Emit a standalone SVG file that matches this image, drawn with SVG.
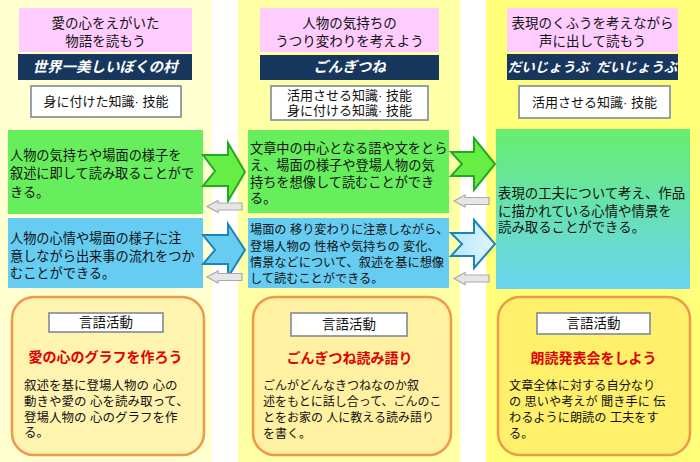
<svg xmlns="http://www.w3.org/2000/svg" width="700" height="462" viewBox="0 0 700 462">
<defs>
<style>
text{font-family:"Liberation Sans","Noto Sans CJK JP","Noto Sans CJK SC",sans-serif;fill:#111}
.hd{font-size:13.5px;text-anchor:middle}
.ttl{font-size:14.5px;font-weight:bold;font-style:italic;fill:#fff;text-anchor:middle}
.sk{font-size:13px;text-anchor:middle}
.bx{font-size:13.2px}
.red{font-size:14px;font-weight:bold;fill:#E00000;text-anchor:middle}
.bd{font-size:12.5px}
.pink{fill:#FFCCFF}
.navy{fill:#17375E}
.skill{fill:#fff;stroke:#7D8A96;stroke-width:1.6}
.green{fill:#66EE5C}
.blue{fill:#66CCF2}
.act{stroke:#EE9A4A;stroke-width:2.5}
.ga{fill:#66EE44;stroke:#22AA22;stroke-width:2;stroke-linejoin:miter}
.ba{fill:#66CCF0;stroke:#1A86B8;stroke-width:2;stroke-linejoin:miter}
.ba2{fill:url(#lb);stroke:#1A86B8;stroke-width:2;stroke-linejoin:miter}
.gr{fill:#E6E6E6;stroke:#A9A9A9;stroke-width:1.2}
</style>
<linearGradient id="gb" x1="0" y1="0" x2="0" y2="1">
<stop offset="0" stop-color="#66EE70"/>
<stop offset="1" stop-color="#6AD4F2"/>
</linearGradient>
<linearGradient id="lb" x1="0" y1="0" x2="1" y2="0">
<stop offset="0" stop-color="#B8E6FA"/>
<stop offset="1" stop-color="#E0F6FF"/>
</linearGradient>
</defs>
<rect width="700" height="462" fill="#fff"/>
<g id="col1">
<rect x="0" y="0" width="212" height="462" fill="#FFFFCF"/>
<rect class="pink" x="19" y="8" width="173" height="44"/>
<text class="hd" x="105.5" y="28">愛の心をえがいた</text>
<text class="hd" x="105.5" y="46">物語を読もう</text>
<rect class="navy" x="18" y="54" width="174" height="26"/>
<text class="ttl" x="105" y="72">世界一美しいぼくの村</text>
<rect class="skill" x="31" y="86" width="150" height="31"/>
<text class="sk" x="106" y="106">身に付けた知識· 技能</text>
</g>
<g id="col2">
<rect x="238" y="0" width="222" height="462" fill="#FFFFA6"/>
<rect class="pink" x="260" y="8" width="179" height="44"/>
<text class="hd" x="349.5" y="28">人物の気持ちの</text>
<text class="hd" x="349.5" y="46">うつり変わりを考えよう</text>
<rect class="navy" x="260" y="55" width="179" height="25"/>
<text class="ttl" x="349.5" y="72">ごんぎつね</text>
<rect class="skill" x="271" y="86" width="157" height="34"/>
<text class="sk" x="349.5" y="100">活用させる知識· 技能</text>
<text class="sk" x="349.5" y="115">身に付ける知識· 技能</text>
</g>
<g id="col3">
<rect x="486" y="0" width="214" height="462" fill="#FFFF7A"/>
<rect class="pink" x="507" y="8" width="171" height="44"/>
<text class="hd" x="592.5" y="28">表現のくふうを考えながら</text>
<text class="hd" x="592.5" y="46">声に出して読もう</text>
<rect class="navy" x="507" y="54" width="171" height="26"/>
<text class="ttl" x="592.5" y="72" style="font-size:13.5px">だいじょうぶ&#160;&#160;だいじょうぶ</text>
<rect class="skill" x="519" y="86" width="151" height="32"/>
<text class="sk" x="594.5" y="107">活用させる知識· 技能</text>
</g>
<g id="g1">
<rect class="green" x="8" y="130" width="195" height="84"/>
<text class="bx" x="10" y="160">人物の気持ちや場面の様子を</text>
<text class="bx" x="10" y="178">叙述に即して読み取ることがで</text>
<text class="bx" x="10" y="197">きる。</text>
</g>
<g id="b1">
<rect class="blue" x="8" y="218" width="195" height="70"/>
<text class="bx" x="10" y="243">人物の心情や場面の様子に注</text>
<text class="bx" x="10" y="261">意しながら出来事の流れをつか</text>
<text class="bx" x="10" y="278">むことができる。</text>
</g>
<g id="g2">
<rect class="green" x="248" y="130" width="201" height="83"/>
<text class="bx" x="250" y="153">文章中の中心となる語や文をとら</text>
<text class="bx" x="250" y="170">え、場面の様子や登場人物の気</text>
<text class="bx" x="250" y="187">持ちを想像して読むことができ</text>
<text class="bx" x="250" y="203">る。</text>
</g>
<g id="b2">
<rect class="blue" x="248" y="218" width="201" height="70"/>
<text class="bx" x="250" y="234" style="font-size:12.2px">場面の 移り変わりに注意しながら、</text>
<text class="bx" x="250" y="251" style="font-size:12.2px">登場人物の 性格や気持ちの 変化、</text>
<text class="bx" x="250" y="267" style="font-size:12.2px">情景などについて、叙述を基に想像</text>
<text class="bx" x="250" y="283" style="font-size:12.2px">して読むことができる。</text>
</g>
<g id="gb3">
<rect x="496" y="129" width="194" height="160" fill="url(#gb)"/>
<text class="bx" x="498" y="198" style="font-size:13.4px">表現の工夫について考え、作品</text>
<text class="bx" x="498" y="216" style="font-size:13.4px">に描かれている心情や情景を</text>
<text class="bx" x="498" y="232" style="font-size:13.4px">読み取ることができる。</text>
</g>
<g id="connectors">
<path class="ga" d="M203,155 L228,155 L228,143 L245,172 L228,201 L228,186 L203,186 L215,171 Z"/>
<path class="ba" d="M203,235 L228,235 L228,224 L245,250 L228,277 L228,264 L203,264 L215,250 Z"/>
<path class="ga" d="M451,152 L474,152 L474,138 L495,164 L474,190 L474,176 L451,176 L462,164 Z"/>
<path class="ba2" d="M451,233 L474,233 L474,220 L495,244 L474,268 L474,256 L451,256 L462,244 Z"/>
<path class="gr" d="M207,206.5 L218,200.5 L218,203 L242,203 L242,210 L218,210 L218,212.5 Z"/>
<path class="gr" d="M207,277 L218,271 L218,273.5 L242,273.5 L242,280.5 L218,280.5 L218,283 Z"/>
<path class="gr" d="M454,201 L465,195 L465,197.5 L489,197.5 L489,204.5 L465,204.5 L465,207 Z"/>
<path class="gr" d="M454,278.5 L465,272.5 L465,275 L489,275 L489,282 L465,282 L465,284.5 Z"/>
</g>
<g id="act1">
<rect class="act" x="12" y="297" width="192" height="158" rx="22" fill="#FFF3B0"/>
<rect class="skill" x="49" y="313" width="114" height="19"/>
<text class="sk" x="106" y="327" style="font-size:13.5px">言語活動</text>
<text class="red" x="105.5" y="362">愛の心のグラフを作ろう</text>
<text class="bd" x="24" y="390">叙述を基に登場人物の 心の</text>
<text class="bd" x="24" y="406">動きや愛の 心を読み取って、</text>
<text class="bd" x="24" y="422">登場人物の 心のグラフを作</text>
<text class="bd" x="24" y="437">る。</text>
</g>
<g id="act2">
<rect class="act" x="253" y="297" width="198" height="158" rx="22" fill="#FFF0A2"/>
<rect class="skill" x="291" y="313" width="116" height="23"/>
<text class="sk" x="349" y="329" style="font-size:13.5px">言語活動</text>
<text class="red" x="349.5" y="363">ごんぎつね読み語り</text>
<text class="bd" x="263" y="390" style="font-size:12px">ごんがどんなきつねなのか叙</text>
<text class="bd" x="263" y="406" style="font-size:12px">述をもとに話し合って、ごんのこ</text>
<text class="bd" x="263" y="422" style="font-size:12px">とをお家の 人に教える読み語り</text>
<text class="bd" x="263" y="438" style="font-size:12px">を書く。</text>
</g>
<g id="act3">
<rect class="act" x="498" y="297" width="192" height="158" rx="22" fill="#FFF06C"/>
<rect class="skill" x="537" y="313" width="113" height="21"/>
<text class="sk" x="593.5" y="328" style="font-size:13.5px">言語活動</text>
<text class="red" x="593.5" y="363">朗読発表会をしよう</text>
<text class="bd" x="509" y="390" style="font-size:12.2px">文章全体に対する自分なり</text>
<text class="bd" x="509" y="406" style="font-size:12.2px">の 思いや考えが 聞き手に 伝</text>
<text class="bd" x="509" y="422" style="font-size:12.2px">わるように朗読の 工夫をす</text>
<text class="bd" x="509" y="438" style="font-size:12.2px">る。</text>
</g>
</svg>
